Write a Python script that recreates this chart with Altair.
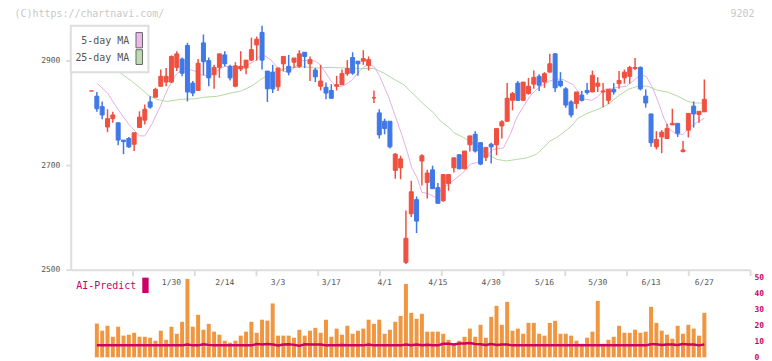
import altair as alt
import pandas as pd

# ---------------- data ----------------
DAY = list(range(-1, 115))
OPEN = [2842, 2832, 2812, 2773, 2789, 2781, 2748, 2751, 2740, 2772,
        2786, 2821, 2830, 2851, 2859, 2859, 2887, 2903, 2929, 2857,
        2843, 2934, 2900, 2873, 2887, 2911, 2889, 2851, 2884, 2886,
        2901, 2930, 2954, 2880, 2878, 2850, 2894, 2889, 2897, 2889,
        2916, 2894, 2882, 2851, 2849, 2843, 2851, 2854, 2875, 2906,
        2899, 2899, 2891, 2829, 2800, 2784, 2784, 2690, 2695, 2514,
        2607, 2634, 2708, 2667, 2691, 2657, 2632, 2665, 2695, 2720,
        2693, 2739, 2759, 2743, 2715, 2740, 2739, 2775, 2784, 2824,
        2857, 2824, 2837, 2855, 2870, 2859, 2878, 2913, 2861, 2846,
        2821, 2818, 2834, 2843, 2840, 2851, 2840, 2824, 2845, 2856,
        2867, 2870, 2885, 2887, 2832, 2798, 2735, 2754, 2751, 2777,
        2780, 2726, 2767, 2813, 2797, 2802]
HIGH = [2842, 2840, 2822, 2807, 2802, 2782, 2748, 2754, 2762, 2803,
        2816, 2832, 2848, 2883, 2886, 2910, 2918, 2906, 2934, 2861,
        2903, 2950, 2906, 2892, 2913, 2918, 2892, 2897, 2918, 2901,
        2944, 2946, 2967, 2880, 2892, 2886, 2908, 2911, 2905, 2920,
        2916, 2908, 2886, 2892, 2858, 2855, 2871, 2883, 2901, 2916,
        2899, 2920, 2908, 2843, 2807, 2789, 2784, 2723, 2718, 2613,
        2670, 2640, 2721, 2691, 2699, 2666, 2682, 2682, 2714, 2720,
        2727, 2756, 2765, 2744, 2734, 2743, 2770, 2786, 2857, 2840,
        2861, 2859, 2867, 2881, 2874, 2878, 2913, 2914, 2878, 2849,
        2824, 2840, 2842, 2857, 2881, 2868, 2857, 2845, 2857, 2880,
        2883, 2890, 2905, 2889, 2845, 2798, 2765, 2767, 2779, 2808,
        2780, 2746, 2799, 2822, 2803, 2864]
LOW = [2842, 2802, 2788, 2763, 2781, 2738, 2721, 2733, 2727, 2772,
       2778, 2808, 2830, 2851, 2851, 2857, 2880, 2870, 2822, 2832,
       2843, 2872, 2851, 2846, 2867, 2889, 2862, 2849, 2880, 2874,
       2899, 2900, 2883, 2821, 2838, 2842, 2880, 2872, 2886, 2886,
       2886, 2861, 2859, 2843, 2826, 2828, 2843, 2854, 2871, 2873,
       2871, 2892, 2881, 2819, 2751, 2759, 2732, 2674, 2673, 2511,
       2601, 2570, 2661, 2636, 2655, 2627, 2630, 2651, 2686, 2692,
       2692, 2726, 2724, 2700, 2708, 2703, 2719, 2751, 2783, 2805,
       2824, 2824, 2835, 2846, 2842, 2848, 2878, 2840, 2849, 2810,
       2791, 2808, 2822, 2835, 2840, 2840, 2811, 2817, 2835, 2846,
       2856, 2856, 2882, 2843, 2810, 2735, 2730, 2723, 2751, 2777,
       2754, 2724, 2753, 2772, 2781, 2802]
CLOSE = [2842, 2808, 2796, 2789, 2796, 2748, 2745, 2735, 2762, 2792,
         2807, 2811, 2845, 2870, 2870, 2908, 2913, 2876, 2840, 2838,
         2895, 2898, 2867, 2887, 2913, 2894, 2867, 2890, 2889, 2901,
         2921, 2941, 2901, 2846, 2846, 2886, 2908, 2878, 2905, 2913,
         2908, 2902, 2869, 2861, 2838, 2828, 2854, 2875, 2885, 2876,
         2894, 2904, 2902, 2829, 2758, 2770, 2735, 2721, 2712, 2560,
         2649, 2593, 2718, 2685, 2655, 2627, 2682, 2682, 2714, 2693,
         2727, 2756, 2727, 2702, 2734, 2735, 2770, 2783, 2828, 2837,
         2824, 2859, 2851, 2868, 2853, 2875, 2894, 2848, 2852, 2815,
         2796, 2840, 2824, 2839, 2872, 2857, 2842, 2845, 2840, 2862,
         2878, 2887, 2887, 2846, 2819, 2743, 2749, 2763, 2770, 2780,
         2761, 2729, 2799, 2798, 2803, 2826]

VOL_DAY = list(range(0, 115))
VOLUME = [21.2, 16.7, 19.8, 12.9, 19.2, 13.6, 14.2, 15.4, 12.9, 12.9,
          12.3, 10.4, 16.7, 11.0, 19.2, 14.8, 22.3, 49.2, 19.2, 26.7,
          17.3, 21.0, 16.1, 14.2, 10.4, 9.2, 10.4, 13.6, 16.1, 22.3,
          15.4, 23.6, 23.0, 33.8, 13.6, 13.6, 13.6, 12.3, 17.3, 13.6,
          16.7, 18.5, 15.4, 23.6, 12.9, 18.0, 14.2, 19.8, 14.8, 16.7,
          18.0, 23.6, 21.0, 23.6, 14.8, 17.3, 22.3, 26.0, 46.0, 27.9,
          24.2, 27.3, 16.1, 16.1, 16.1, 14.8, 11.0, 8.5, 10.4, 12.9,
          18.0, 12.9, 20.4, 12.3, 25.4, 32.3, 20.4, 34.8, 16.7, 18.0,
          14.8, 21.6, 21.6, 14.8, 13.6, 21.6, 22.9, 14.8, 14.8, 13.6,
          10.4, 8.5, 12.3, 16.1, 35.4, 8.5, 11.0, 12.9, 19.8, 15.4,
          15.4, 17.3, 15.4, 16.1, 31.7, 21.6, 16.7, 14.2, 11.7, 19.8,
          14.8, 20.4, 18.0, 13.6, 27.9]
AI_PRED = [7.5, 7.5, 7.5, 7.5, 7.5, 7.5, 7.5, 7.5, 7.5, 7.5,
           7.5, 7.5, 7.5, 7.5, 7.5, 7.5, 7.5, 8.0, 7.5, 7.5,
           8.2, 7.8, 7.5, 7.5, 7.5, 7.5, 7.5, 7.5, 7.5, 7.5,
           8.3, 8.0, 8.3, 8.0, 7.4, 8.0, 8.2, 7.8, 7.2, 8.2,
           8.0, 8.0, 8.0, 7.5, 7.5, 7.5, 7.8, 7.5, 7.5, 7.5,
           7.5, 8.0, 7.5, 7.5, 7.5, 7.5, 7.5, 7.5, 8.0, 7.6,
           8.0, 7.6, 7.9, 7.6, 7.5, 8.5, 8.5, 8.0, 8.6, 8.6,
           9.0, 8.4, 8.2, 7.8, 8.4, 7.8, 8.0, 8.0, 7.5, 7.5,
           7.5, 7.5, 7.5, 7.5, 7.5, 7.5, 7.5, 7.5, 7.5, 7.5,
           7.5, 7.5, 7.5, 7.5, 7.5, 7.5, 7.5, 7.5, 7.5, 7.5,
           7.5, 7.5, 7.5, 7.5, 8.2, 8.2, 7.8, 8.0, 8.0, 7.7,
           8.3, 8.0, 8.0, 7.5, 8.0]

MA5_X = [0, 2, 4, 6, 8, 9, 10.3, 11.8, 13.4, 15, 16.5, 18.4, 19.6, 21.2, 22.1,
         24, 26, 27.7, 29.6, 30.5, 31.4, 32.7, 33.9, 34.8, 36.1, 37.4, 38.6,
         40, 41, 42, 43, 44, 45, 46, 47, 48, 49, 50, 51, 52, 53, 54, 54.8,
         56.1, 57.3, 58.2, 59.1, 60.1, 61, 62.3, 63.6, 64.7, 66.4, 68.8, 70.1,
         71.3, 72.6, 74.4, 76.3, 77.6, 78.8, 80.1, 81.3, 82.5, 83.8, 85, 86.2,
         87.5, 88.8, 89.4, 90.7, 91.6, 92.9, 94.1, 95.3, 96.6, 97.8, 99.4,
         100.6, 101.9, 103.1, 104.3, 105.3, 106.5, 107.5, 108.8, 110, 111.2,
         112.5, 114]
MA5_Y = [2857, 2838, 2806, 2778, 2756, 2756, 2778, 2810, 2848, 2875, 2886, 2880,
         2873, 2870, 2878, 2889, 2889, 2889, 2899, 2908, 2910, 2901, 2887, 2880,
         2878, 2890, 2900, 2901, 2899, 2891, 2876, 2860, 2850, 2851, 2856, 2864,
         2877, 2887, 2892, 2889, 2872, 2848, 2829, 2791, 2756, 2727, 2695, 2676,
         2648, 2645, 2638, 2654, 2667, 2686, 2702, 2705, 2714, 2730, 2733, 2759,
         2791, 2813, 2832, 2845, 2854, 2861, 2865, 2864, 2857, 2854, 2835, 2826,
         2824, 2832, 2845, 2847, 2849, 2851, 2861, 2872, 2870, 2848, 2822, 2788,
         2769, 2759, 2759, 2772, 2781, 2790]

MA25_X = [3.5, 4.5, 6.5, 8.1, 9.6, 11.2, 13.1, 15.9, 18.4, 20.2, 22.7, 25.2,
          27.1, 29, 30.5, 32.1, 33.9, 35.8, 38.9, 41.4, 43.6, 46.4, 49.5, 52,
          53.9, 55.8, 57.6, 59.5, 61.4, 63.2, 64.5, 66.1, 67, 68.8, 71.3, 73.2,
          75.1, 76.9, 78.8, 80.7, 82.5, 83.8, 85, 86.3, 87.5, 89.1, 90.3, 92.2,
          94.1, 95.9, 97.8, 99.7, 101.5, 103.4, 105.3, 107.1, 109, 110.9,
          112.1, 113.7]
MA25_Y = [2883, 2876, 2861, 2848, 2834, 2826, 2822, 2826, 2827, 2830, 2832,
          2838, 2842, 2851, 2862, 2873, 2880, 2886, 2888, 2886, 2887, 2886,
          2885, 2885, 2876, 2864, 2854, 2835, 2816, 2800, 2784, 2772, 2762,
          2753, 2737, 2721, 2711, 2708, 2711, 2714, 2721, 2733, 2746, 2753,
          2762, 2775, 2790, 2800, 2807, 2816, 2832, 2845, 2851, 2851, 2843,
          2840, 2832, 2822, 2819, 2819]

DATE_POS = [14, 24, 34, 44, 54, 64, 74, 84, 94, 104, 114]
DATE_LABELS = ["1/30", "2/14", "3/3", "3/17", "4/1", "4/15", "4/30",
               "5/16", "5/30", "6/13", "6/27"]
PRICE_TICKS = [2500, 2700, 2900]
VOL_TICKS = [0, 10, 20, 30, 40, 50]

# ---------------- layout / style ----------------
W, H_TOP, H_VOL = 682, 245, 80
XMIN, XMAX = -4.897, 122.58
X_TICKS = [XMIN + k * (XMAX - XMIN) / 11 for k in range(1, 12)]
MONO = "DejaVu Sans Mono"
RED, BLUE = "#f05040", "#4078e8"
PINK, GREEN = "#e6aee6", "#b2d9a2"
MAGENTA, ORANGE = "#cc0066", "#f09640"
AXIS_GRAY = "#dddddd"

candles = pd.DataFrame({"day": DAY, "open": OPEN, "high": HIGH,
                        "low": LOW, "close": CLOSE})
candles["top"] = candles[["open", "close"]].max(axis=1)
candles["bot"] = candles[["open", "close"]].min(axis=1)
candles["dir"] = ["up" if c >= o else "down" for o, c in zip(OPEN, CLOSE)]
ma5 = pd.DataFrame({"day": MA5_X, "ma": MA5_Y})
ma25 = pd.DataFrame({"day": MA25_X, "ma": MA25_Y})
vol = pd.DataFrame({"day": VOL_DAY, "vol": VOLUME, "ai": AI_PRED})
dates = pd.DataFrame({"day": DATE_POS, "label": DATE_LABELS})
one = pd.DataFrame({"k": [0]})

xscale = alt.Scale(domain=[XMIN, XMAX], nice=False, zero=False, padding=0)
yscale = alt.Scale(domain=[2500, 2967], nice=False, zero=False, padding=0)
dir_scale = alt.Scale(domain=["up", "down"], range=[RED, BLUE])

x_axis = alt.Axis(values=X_TICKS, labels=False, tickSize=6, tickWidth=2,
                  tickColor=AXIS_GRAY, domainColor=AXIS_GRAY, domainWidth=2,
                  grid=False, title=None)
y_axis = alt.Axis(values=PRICE_TICKS, format="d", tickSize=5, tickWidth=2,
                  tickColor=AXIS_GRAY, domainColor=AXIS_GRAY, domainWidth=2,
                  labelFont=MONO, labelFontSize=8, labelColor="#555555",
                  labelPadding=6, grid=False, title=None)

X = alt.X("day:Q", scale=xscale, axis=x_axis)

line5 = alt.Chart(ma5).mark_line(color=PINK, strokeWidth=1).encode(
    x=X, y=alt.Y("ma:Q", scale=yscale, axis=y_axis))
line25 = alt.Chart(ma25).mark_line(color=GREEN, strokeWidth=1).encode(
    x=X, y=alt.Y("ma:Q", scale=yscale, axis=y_axis))

wicks = alt.Chart(candles).mark_rule(strokeWidth=1.5).encode(
    x=X, y=alt.Y("low:Q", scale=yscale, axis=y_axis), y2="high:Q",
    color=alt.Color("dir:N", scale=dir_scale, legend=None))
bodies = alt.Chart(candles).mark_bar(size=4, strokeWidth=1).encode(
    x=X, y=alt.Y("bot:Q", scale=yscale, axis=y_axis), y2="top:Q",
    fill=alt.Fill("dir:N", scale=dir_scale, legend=None),
    stroke=alt.Stroke("dir:N", scale=dir_scale, legend=None))

date_text = alt.Chart(dates).mark_text(font=MONO, fontSize=8, color="#555555",
                                       baseline="middle").encode(
    x=X, y=alt.value(H_TOP + 13), text="label:N")

legend_box = alt.Chart(one).mark_rect(fill="white", stroke=AXIS_GRAY,
                                      strokeWidth=2).encode(
    x=alt.value(0), x2=alt.value(78), y=alt.value(0), y2=alt.value(46.7))
leg5 = alt.Chart(one).mark_text(font=MONO, fontSize=10, color="#555555",
                                align="right", baseline="middle",
                                text="5-day MA").encode(
    x=alt.value(58.8), y=alt.value(15.5))
leg25 = alt.Chart(one).mark_text(font=MONO, fontSize=10, color="#555555",
                                 align="right", baseline="middle",
                                 text="25-day MA").encode(
    x=alt.value(58.8), y=alt.value(32.3))
sw5 = alt.Chart(one).mark_rect(fill="#ebb9eb", stroke="#666666",
                               strokeWidth=1).encode(
    x=alt.value(65.5), x2=alt.value(72), y=alt.value(7), y2=alt.value(22.3))
sw25 = alt.Chart(one).mark_rect(fill="#bcdcb2", stroke="#666666",
                                strokeWidth=1).encode(
    x=alt.value(65.5), x2=alt.value(72), y=alt.value(24.2), y2=alt.value(39))

copy_text = alt.Chart(one).mark_text(font=MONO, fontSize=10, color="#c8c8c8",
                                     align="left", baseline="middle",
                                     text="(C)https://chartnavi.com/").encode(
    x=alt.value(-56.5), y=alt.value(-11.8))
code_text = alt.Chart(one).mark_text(font=MONO, fontSize=10, color="#c8c8c8",
                                     align="right", baseline="middle",
                                     text="9202").encode(
    x=alt.value(686.5), y=alt.value(-11.8))

top = alt.layer(line5, line25, wicks, bodies, date_text, legend_box, leg5,
                leg25, sw5, sw25, copy_text, code_text).properties(
    width=W, height=H_TOP)

# ---------------- volume panel ----------------
vscale = alt.Scale(domain=[0, 50], nice=False, zero=True, padding=0)
v_axis = alt.Axis(orient="right", values=VOL_TICKS, domain=False, ticks=False,
                  labelFont=MONO, labelFontSize=8, labelFontWeight="bold",
                  labelColor=MAGENTA, labelPadding=4, grid=False, title=None)
VX = alt.X("day:Q", scale=xscale, axis=None)

vbars = alt.Chart(vol).mark_bar(size=4, color=ORANGE).encode(
    x=VX, y=alt.Y("vol:Q", scale=vscale, axis=v_axis))
ailine = alt.Chart(vol).mark_line(color=MAGENTA, strokeWidth=2.5).encode(
    x=VX, y=alt.Y("ai:Q", scale=vscale, axis=v_axis))
ai_text = alt.Chart(one).mark_text(font=MONO, fontSize=10, color=MAGENTA,
                                   align="left", baseline="middle",
                                   text="AI-Predict").encode(
    x=alt.value(5.5), y=alt.value(8.5))
ai_box = alt.Chart(one).mark_rect(fill=MAGENTA).encode(
    x=alt.value(71.8), x2=alt.value(78.2), y=alt.value(0), y2=alt.value(15.5))

bottom = alt.layer(vbars, ailine, ai_text, ai_box).properties(
    width=W, height=H_VOL)

chart = alt.vconcat(top, bottom, spacing=8, bounds="flush").properties(
    padding={"left": 6, "top": 0, "right": 0, "bottom": 0}
).configure_view(stroke=None)

chart.save("out.html", embed_options={"renderer": "svg", "actions": False})
